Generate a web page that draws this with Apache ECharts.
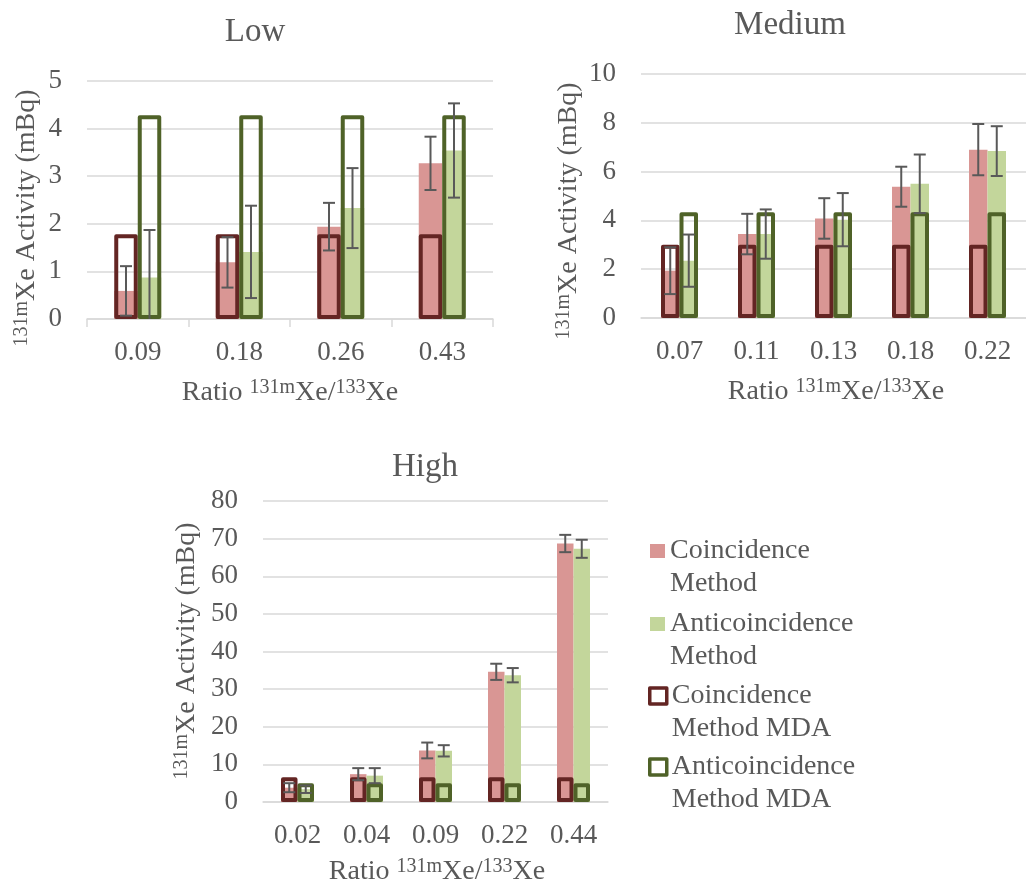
<!DOCTYPE html>
<html>
<head>
<meta charset="utf-8">
<script src="https://cdn.jsdelivr.net/npm/echarts@6/dist/echarts.min.js"></script>
<style>
  html, body { margin: 0; padding: 0; background: #ffffff; }
  #chart { width: 1026px; height: 888px; }
</style>
</head>
<body>
<div id="chart"></div>
<script>
// ---------- data: 131mXe activity (mBq) by 131mXe/133Xe ratio ----------
const lowRatios = ['0.09', '0.18', '0.26', '0.43'];
const lowCoinc = [0.59, 1.19, 1.94, 3.27];
const lowCoincErr = [0.52, 0.53, 0.50, 0.56];
const lowAnti = [0.87, 1.41, 2.33, 3.54];
const lowAntiErr = [1.00, 0.97, 0.84, 0.99];
const lowCoincMDA = [1.78, 1.78, 1.78, 1.78];
const lowAntiMDA = [4.28, 4.28, 4.28, 4.28];

const medRatios = ['0.07', '0.11', '0.13', '0.18', '0.22'];
const medCoinc = [1.94, 3.44, 4.08, 5.38, 6.90];
const medCoincErr = [0.96, 0.83, 0.83, 0.82, 1.05];
const medAnti = [2.35, 3.44, 4.03, 5.50, 6.84];
const medAntiErr = [1.07, 1.01, 1.09, 1.20, 1.02];
const medCoincMDA = [3.00, 3.00, 3.00, 3.00, 3.00];
const medAntiMDA = [4.33, 4.33, 4.33, 4.33, 4.33];

const highRatios = ['0.02', '0.04', '0.09', '0.22', '0.44'];
const highCoinc = [3.8, 7.4, 13.7, 34.6, 68.7];
const highCoincErr = [1.2, 1.6, 2.1, 2.15, 2.3];
const highAnti = [3.4, 7.0, 13.6, 33.7, 67.3];
const highAntiErr = [1.0, 2.0, 1.5, 1.9, 2.4];
const highCoincMDA = [6.6, 6.6, 6.6, 6.6, 6.6];
const highAntiMDA = [5.0, 5.0, 5.0, 5.0, 5.0];

// y-axis scales for each panel
const lowScale = { min: 0, max: 5, interval: 1 };
const medScale = { min: 0, max: 10, interval: 2 };
const highScale = { min: 0, max: 80, interval: 10 };

const panelTitles = ['Low', 'Medium', 'High'];
const seriesNames = ['Coincidence Method', 'Anticoincidence Method',
                     'Coincidence Method MDA', 'Anticoincidence Method MDA'];

// ---------- styles ----------
const FONT = '"Liberation Serif", "Times New Roman", serif';
const TEXT = '#595959';
const GRID_LINE = '#d9d9d9';
const PINK = '#d99694';
const LIGHT_GREEN = '#c3d69b';
const DARK_RED = '#632523';
const OLIVE = '#4f6228';
const ERR = '#595959';

const panels = [
  { title: panelTitles[0], cats: lowRatios, scale: lowScale,
    coinc: lowCoinc, coincErr: lowCoincErr, anti: lowAnti, antiErr: lowAntiErr,
    coincMDA: lowCoincMDA, antiMDA: lowAntiMDA,
    grid: { left: 87, top: 81, width: 406, height: 238 }, barWidth: 23.5, ticks: true,
    titlePos: [255, 32], yTitlePos: [27, 218], xTitlePos: [290, 393] },
  { title: panelTitles[1], cats: medRatios, scale: medScale,
    coinc: medCoinc, coincErr: medCoincErr, anti: medAnti, antiErr: medAntiErr,
    coincMDA: medCoincMDA, antiMDA: medAntiMDA,
    grid: { left: 641, top: 74, width: 390, height: 244 }, barWidth: 18.5, ticks: false,
    titlePos: [790, 25], yTitlePos: [569, 211], xTitlePos: [836, 392] },
  { title: panelTitles[2], cats: highRatios, scale: highScale,
    coinc: highCoinc, coincErr: highCoincErr, anti: highAnti, antiErr: highAntiErr,
    coincMDA: highCoincMDA, antiMDA: highAntiMDA,
    grid: { left: 263, top: 501, width: 345, height: 301 }, barWidth: 16.5, ticks: false,
    titlePos: [425, 467], yTitlePos: [187, 651], xTitlePos: [437, 872] }
];

const grids = [], xAxes = [], yAxes = [], series = [], graphics = [];

// error bars drawn through the axes at the centre of each bar
function errorBars(name, xIdx, yIdx, values, errs, side, barWidth) {
  return {
    type: 'custom', name: name, xAxisIndex: xIdx, yAxisIndex: yIdx, z: 10,
    silent: true,
    data: values.map((v, i) => [i, v, errs[i]]),
    renderItem: function (params, api) {
      const i = api.value(0), v = api.value(1), e = api.value(2);
      const top = api.coord([i, v + e]);
      const lowVal = Math.max(0, v - e);
      const bot = api.coord([i, lowVal]);
      const x = top[0] + side * barWidth / 2;
      const cap = 6;
      const style = { stroke: ERR, lineWidth: 2 };
      const kids = [
        { type: 'line', shape: { x1: x, y1: top[1], x2: x, y2: bot[1] }, style: style },
        { type: 'line', shape: { x1: x - cap, y1: top[1], x2: x + cap, y2: top[1] }, style: style }
      ];
      if (v - e > 0) {
        kids.push({ type: 'line', shape: { x1: x - cap, y1: bot[1], x2: x + cap, y2: bot[1] }, style: style });
      }
      return { type: 'group', children: kids };
    }
  };
}

function supText(pre, sup1, mid, sup2, post) {
  let s = (pre ? '{m|' + pre + '}' : '') + '{s|' + sup1 + '}{m|' + mid + '}';
  if (sup2) s += '{s|' + sup2 + '}{m|' + post + '}';
  return s;
}
const richStyle = {
  m: { fontFamily: FONT, fontSize: 28, lineHeight: 31, fill: TEXT, color: TEXT },
  s: { fontFamily: FONT, fontSize: 20, lineHeight: 20, verticalAlign: 'top', fill: TEXT, color: TEXT }
};

panels.forEach((p, k) => {
  grids.push(Object.assign({ containLabel: false }, p.grid));
  const xa = xAxes.length;
  xAxes.push({
    type: 'category', gridIndex: k, data: p.cats,
    axisLine: { show: true, lineStyle: { color: GRID_LINE, width: 1.5 } },
    axisTick: { show: p.ticks, length: 8, interval: 0, lineStyle: { color: GRID_LINE, width: 1.5 } },
    axisLabel: { fontFamily: FONT, fontSize: 27, color: TEXT, margin: 20, interval: 0 }
  });
  xAxes.push({
    type: 'category', gridIndex: k, data: p.cats, show: false
  });
  yAxes.push({
    type: 'value', gridIndex: k, min: p.scale.min, max: p.scale.max, interval: p.scale.interval,
    axisLine: { show: false }, axisTick: { show: false },
    splitLine: { show: true, lineStyle: { color: GRID_LINE, width: 1.5 } },
    axisLabel: { fontFamily: FONT, fontSize: 27, color: TEXT, margin: 25 }
  });
  const bw = p.barWidth;
  series.push(
    { type: 'bar', name: seriesNames[0], xAxisIndex: xa, yAxisIndex: k, data: p.coinc,
      barWidth: bw, barGap: '0%', itemStyle: { color: PINK }, z: 2 },
    { type: 'bar', name: seriesNames[1], xAxisIndex: xa, yAxisIndex: k, data: p.anti,
      barWidth: bw, barGap: '0%', itemStyle: { color: LIGHT_GREEN }, z: 2 },
    { type: 'bar', name: seriesNames[2], xAxisIndex: xa + 1, yAxisIndex: k, data: p.coincMDA,
      barWidth: bw, barGap: '0%', z: 4,
      itemStyle: { color: 'rgba(0,0,0,0)', borderColor: DARK_RED, borderWidth: 4, borderJoin: 'round' } },
    { type: 'bar', name: seriesNames[3], xAxisIndex: xa + 1, yAxisIndex: k, data: p.antiMDA,
      barWidth: bw, barGap: '0%', z: 4,
      itemStyle: { color: 'rgba(0,0,0,0)', borderColor: OLIVE, borderWidth: 4, borderJoin: 'round' } },
    errorBars(seriesNames[0], xa, k, p.coinc, p.coincErr, -1, bw),
    errorBars(seriesNames[1], xa, k, p.anti, p.antiErr, 1, bw)
  );

  // panel title
  graphics.push({
    type: 'text', x: p.titlePos[0], y: p.titlePos[1],
    style: { text: p.title, fontFamily: FONT, fontSize: 33, fill: TEXT, align: 'center', verticalAlign: 'middle' }
  });
  // y-axis title (rotated)
  graphics.push({
    type: 'text', x: p.yTitlePos[0], y: p.yTitlePos[1], rotation: Math.PI / 2,
    style: { text: supText('', '131m', 'Xe Activity (mBq)'), rich: richStyle,
             align: 'center', verticalAlign: 'middle' }
  });
  // x-axis title
  graphics.push({
    type: 'text', x: p.xTitlePos[0], y: p.xTitlePos[1],
    style: { text: supText('Ratio ', '131m', 'Xe/', '133', 'Xe'), rich: richStyle,
             align: 'center', verticalAlign: 'middle' }
  });
});

// legend: one block per entry so the swatch sits beside the first text line
const legendIconCenters = [551, 624, 696, 767];
const legendSwatches = [
  { icon: 'rect', w: 15, h: 14, left: 650, itemStyle: { color: PINK, borderWidth: 0 } },
  { icon: 'rect', w: 15, h: 14, left: 650, itemStyle: { color: LIGHT_GREEN, borderWidth: 0 } },
  { icon: 'rect', w: 17, h: 16, left: 648, itemStyle: { color: '#ffffff', borderColor: DARK_RED, borderWidth: 3.5 } },
  { icon: 'rect', w: 17, h: 16, left: 648, itemStyle: { color: '#ffffff', borderColor: OLIVE, borderWidth: 3.5 } }
];
const LEGEND_LINE = 33;
const legends = seriesNames.map((n, i) => ({
  orient: 'vertical', left: legendSwatches[i].left,
  top: legendIconCenters[i] - LEGEND_LINE * 1.5, padding: 0,
  itemWidth: legendSwatches[i].w, itemHeight: legendSwatches[i].h,
  data: [{ name: n, icon: legendSwatches[i].icon, itemStyle: legendSwatches[i].itemStyle }],
  formatter: function (name) {
    const cut = name.indexOf(' ');
    return '\n' + name.slice(0, cut) + '\n' + name.slice(cut + 1);
  },
  textStyle: { fontFamily: FONT, fontSize: 28, color: TEXT, lineHeight: LEGEND_LINE },
  selectedMode: false
}));

const chart = echarts.init(document.getElementById('chart'));
chart.setOption({
  animation: false,
  backgroundColor: '#ffffff',
  textStyle: { fontFamily: FONT },
  grid: grids,
  xAxis: xAxes,
  yAxis: yAxes,
  legend: legends,
  series: series,
  graphic: graphics
});
</script>
</body>
</html>
